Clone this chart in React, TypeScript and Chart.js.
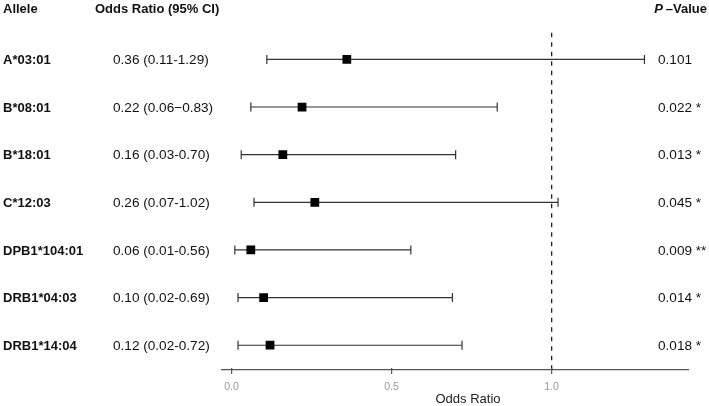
import React, { useEffect, useRef } from 'react';
import { Chart, registerables } from 'chart.js';

Chart.register(...registerables);

const FONT = '"Liberation Sans", Arial, Helvetica, sans-serif';

const alleles = ['A*03:01', 'B*08:01', 'B*18:01', 'C*12:03', 'DPB1*104:01', 'DRB1*04:03', 'DRB1*14:04'];
const orLabels = [
  '0.36 (0.11-1.29)',
  '0.22 (0.06\u22120.83)',
  '0.16 (0.03-0.70)',
  '0.26 (0.07-1.02)',
  '0.06 (0.01-0.56)',
  '0.10 (0.02-0.69)',
  '0.12 (0.02-0.72)',
];
const oddsRatios = [0.36, 0.22, 0.16, 0.26, 0.06, 0.10, 0.12];
const lowerCI = [0.11, 0.06, 0.03, 0.07, 0.01, 0.02, 0.02];
const upperCI = [1.29, 0.83, 0.70, 1.02, 0.56, 0.69, 0.72];
const pValues = ['0.101', '0.022', '0.013', '0.045', '0.009', '0.014', '0.018'];
const stars = ['', '*', '*', '*', '**', '*', '*'];
const referenceLine = 1.0;
const xTicks = [0, 0.5, 1.0];

export default function App() {
  const ref = useRef<HTMLCanvasElement>(null);

  useEffect(() => {
    if (!ref.current) return;
    const rows = alleles.map((_, i) => i + 1);

    const forestPlugin = {
      id: 'forest',
      beforeDatasetsDraw(chart: any) {
        const { ctx, scales, chartArea } = chart;
        const x = scales.x;
        const y = scales.y;
        ctx.save();
        // reference dashed line
        ctx.strokeStyle = '#222';
        ctx.lineWidth = 1.3;
        ctx.setLineDash([4.5, 5]);
        const xr = x.getPixelForValue(referenceLine);
        ctx.beginPath();
        ctx.moveTo(xr, chartArea.top);
        ctx.lineTo(xr, chartArea.bottom);
        ctx.stroke();
        ctx.setLineDash([]);
        // axis tick marks
        ctx.strokeStyle = '#555';
        ctx.lineWidth = 1.2;
        xTicks.forEach((t) => {
          const xp = x.getPixelForValue(t);
          ctx.beginPath();
          ctx.moveTo(xp, chartArea.bottom - 2);
          ctx.lineTo(xp, chartArea.bottom + 4);
          ctx.stroke();
        });
        // error bars
        ctx.strokeStyle = '#333';
        ctx.lineWidth = 1.2;
        rows.forEach((r, i) => {
          const yy = y.getPixelForValue(r);
          const x0 = x.getPixelForValue(lowerCI[i]);
          const x1 = x.getPixelForValue(upperCI[i]);
          ctx.beginPath();
          ctx.moveTo(x0, yy);
          ctx.lineTo(x1, yy);
          ctx.moveTo(x0, yy - 4.5);
          ctx.lineTo(x0, yy + 4.5);
          ctx.moveTo(x1, yy - 4.5);
          ctx.lineTo(x1, yy + 4.5);
          ctx.stroke();
        });
        ctx.restore();
      },
      afterDraw(chart: any) {
        const { ctx, scales } = chart;
        const y = scales.y;
        ctx.save();
        ctx.textBaseline = 'middle';
        ctx.fillStyle = '#111';
        // headers
        ctx.font = `bold 13px ${FONT}`;
        ctx.textAlign = 'left';
        ctx.fillText('Allele', 3, 9);
        ctx.fillText('Odds Ratio (95% CI)', 95, 9);
        // P-Value header (right aligned)
        const rest = '\u2013Value';
        const restW = ctx.measureText(rest).width;
        ctx.textAlign = 'right';
        ctx.fillText(rest, 707, 9);
        ctx.font = `italic bold 13px ${FONT}`;
        ctx.fillText('P', 707 - restW - 3, 9);
        ctx.textAlign = 'left';
        rows.forEach((r, i) => {
          const yy = y.getPixelForValue(r) + 1;
          ctx.font = `bold 13px ${FONT}`;
          ctx.fillText(alleles[i], 3, yy);
          ctx.font = `13.6px ${FONT}`;
          ctx.fillText(orLabels[i], 113, yy);
          const pv = pValues[i] + (stars[i] ? ' ' + stars[i] : '');
          ctx.fillText(pv, 658, yy);
        });
        // axis title
        ctx.font = `13px ${FONT}`;
        ctx.textAlign = 'center';
        ctx.fillStyle = '#222';
        ctx.fillText('Odds Ratio', 468, 399);
        ctx.restore();
      },
    };

    const chart = new Chart(ref.current, {
      type: 'scatter',
      data: {
        datasets: [
          {
            data: oddsRatios.map((v, i) => ({ x: v, y: rows[i] })),
            pointStyle: 'rect',
            radius: 6.2,
            backgroundColor: '#000',
            borderWidth: 0,
          },
        ],
      },
      options: {
        responsive: false,
        animation: false,
        devicePixelRatio: 1,
        layout: { padding: { left: 221.7, right: 20.7, top: 32.7, bottom: 0 } },
        plugins: { legend: { display: false }, tooltip: { enabled: false } },
        scales: {
          x: {
            type: 'linear',
            min: -0.031,
            max: 1.427,
            afterFit: (s: any) => {
              s.height = 36;
            },
            afterBuildTicks: (s: any) => {
              s.ticks = xTicks.map((v) => ({ value: v }));
            },
            ticks: {
              includeBounds: false,
              padding: 7,
              color: '#999',
              font: { family: FONT, size: 10.5 },
              callback: (v: any) => Number(v).toFixed(1),
            },
            grid: { display: false, drawOnChartArea: false, tickLength: 4 },
            border: { display: true, color: '#555', width: 1.3 },
          },
          y: {
            type: 'linear',
            display: false,
            reverse: true,
            min: 0.44,
            max: 7.52,
          },
        },
      },
      plugins: [forestPlugin],
    });
    return () => chart.destroy();
  }, []);

  return (
    <div style={{ position: 'fixed', left: 0, top: 0, width: 709, height: 406, background: '#fff' }}>
      <canvas ref={ref} width={709} height={406} />
    </div>
  );
}
